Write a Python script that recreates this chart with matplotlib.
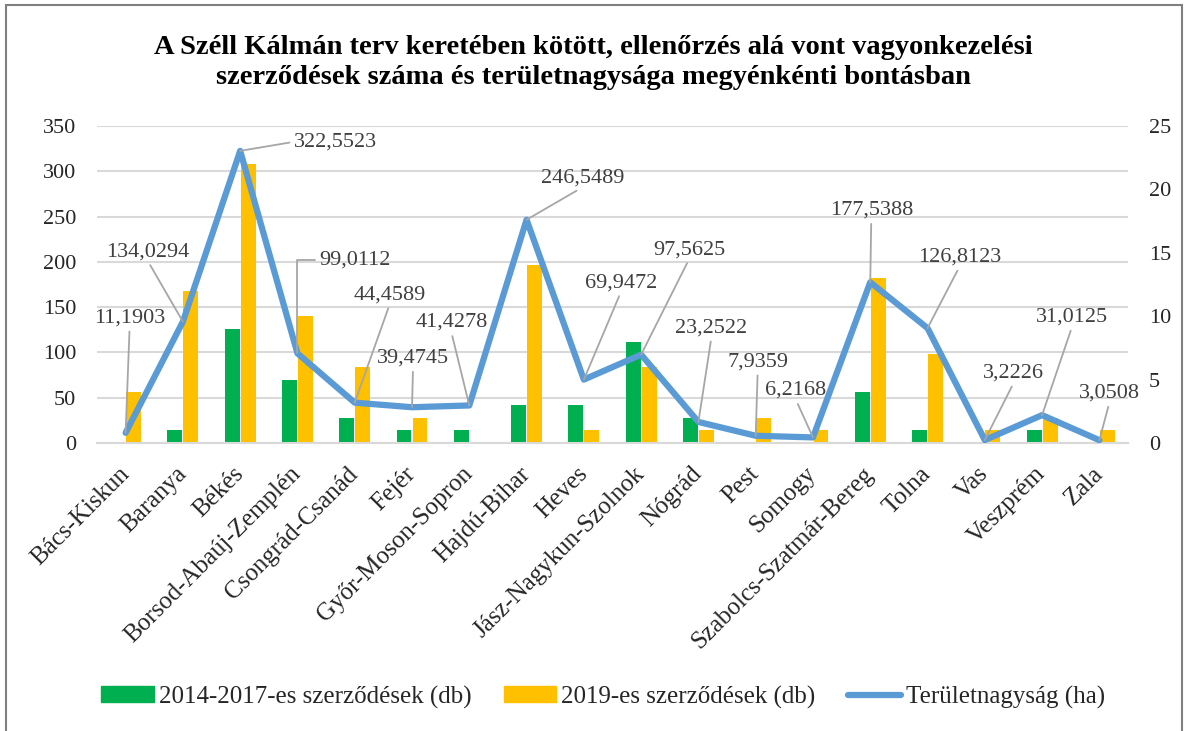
import numpy as np
import matplotlib
matplotlib.use('Agg')
import matplotlib.pyplot as plt
from matplotlib.patches import Rectangle, Patch
from matplotlib.lines import Line2D

plt.rcParams['font.family'] = ['Liberation Serif', 'DejaVu Serif']
plt.rcParams['ytick.major.pad'] = 15

# adatok
megyek = ['Bács-Kiskun', 'Baranya', 'Békés', 'Borsod-Abaúj-Zemplén', 'Csongrád-Csanád',
          'Fejér', 'Győr-Moson-Sopron', 'Hajdú-Bihar', 'Heves', 'Jász-Nagykun-Szolnok',
          'Nógrád', 'Pest', 'Somogy', 'Szabolcs-Szatmár-Bereg', 'Tolna', 'Vas',
          'Veszprém', 'Zala']
szerz_2014 = [0, 14, 126, 70, 28, 14, 14, 42, 42, 112, 28, 0, 0, 56, 14, 0, 14, 0]
szerz_2019 = [56, 168, 308, 140, 84, 28, 0, 196, 14, 84, 14, 28, 14, 182, 98, 14, 28, 14]
terulet = [0.80, 9.57, 23.04, 7.07, 3.18, 2.82, 2.96, 17.61, 5.00, 6.97,
           1.66, 0.57, 0.44, 12.68, 9.06, 0.23, 2.20, 0.22]
terulet_cimke = ['11,1903', '134,0294', '322,5523', '99,0112', '44,4589', '39,4745',
                 '41,4278', '246,5489', '69,9472', '97,5625', '23,2522', '7,9359',
                 '6,2168', '177,5388', '126,8123', '3,2226', '31,0125', '3,0508']

# cimkék eltolása a ponttól (pixel)
cimke_eltolas = [(4, 115), (-35, 70), (95, 9), (57, 93), (35, 108), (1, 49),
                 (-18, 83), (56, 42), (37, 97), (48, 105), (13, 94), (2, 74),
                 (-17, 47), (1, 72), (32, 71), (29, 67), (30, 98), (10, 47)]

zold = '#00B050'
sarga = '#FFC000'
kek = '#5B9BD5'
szurke = '#404040'

fig = plt.figure(figsize=(11.87, 7.31), dpi=100)
ax = fig.add_axes([0.0817, 0.394, 0.8686, 0.4336])
ax2 = ax.twinx()

x = np.arange(len(megyek))
w = 0.26
ax.bar(x - 0.14, szerz_2014, w, color=zold, zorder=2)
ax.bar(x + 0.14, szerz_2019, w, color=sarga, zorder=2)

ax.set_xlim(-0.5, len(megyek) - 0.5)
ax.set_ylim(0, 350)
ax.set_yticks(np.arange(0, 351, 50))
ax.grid(axis='y', color='#D9D9D9', lw=1.5, zorder=0)
ax.set_axisbelow(True)

ax2.plot(x, terulet, color=kek, lw=4.5, solid_joinstyle='round', solid_capstyle='round', zorder=3)
ax2.set_ylim(0, 25)
ax2.set_yticks(np.arange(0, 26, 5))

for a in (ax, ax2):
    for s in a.spines.values():
        s.set_visible(False)
    a.tick_params(length=0, labelsize=16, colors='#262626')
ax.spines['bottom'].set_visible(True)
ax.spines['bottom'].set_color('#D9D9D9')
ax.spines['bottom'].set_linewidth(1.5)

ax.set_xticks(x)
ax.set_xticklabels(megyek, rotation=45, ha='right', va='center', rotation_mode='anchor',
                   fontsize=18)
ax.tick_params(axis='x', pad=20)

# adatcímkék vezetővonallal
for i in range(len(megyek)):
    dx, dy = cimke_eltolas[i]
    relpos = (0.5, 0)
    conn = 'arc3'
    if i == 2:
        relpos = (0, 0.5)
    if i == 3:
        relpos = (0, 0.5)
        conn = 'angle,angleA=0,angleB=90,rad=0'
    ax2.annotate(terulet_cimke[i], xy=(x[i], terulet[i]), xytext=(dx, dy),
                 textcoords='offset pixels', ha='center', va='center',
                 fontsize=16, color=szurke, zorder=4,
                 arrowprops=dict(arrowstyle='-', color='#A6A6A6', lw=1.3,
                                 relpos=relpos, connectionstyle=conn,
                                 shrinkA=1, shrinkB=0))

fig.text(0.5, 1 - 47 / 731, 'A Széll Kálmán terv keretében kötött, ellenőrzés alá vont vagyonkezelési',
         ha='center', va='center', fontsize=20.5, fontweight='bold')
fig.text(0.5, 1 - 77 / 731, 'szerződések száma és területnagysága megyénkénti bontásban',
         ha='center', va='center', fontsize=20.5, fontweight='bold')

kezelok = [Patch(color=zold), Patch(color=sarga),
           Line2D([], [], color=kek, lw=4.5, solid_capstyle='round')]
fig.legend(kezelok, ['2014-2017-es szerződések (db)', '2019-es szerződések (db)',
                     'Területnagyság (ha)'],
           loc='center', bbox_to_anchor=(603 / 1187, 1 - 697 / 731), ncol=3, frameon=False,
           fontsize=18, handlelength=2.1, handleheight=0.6, handletextpad=0.2,
           columnspacing=1.3, labelcolor='#262626')

# keret
fig.add_artist(Rectangle((6 / 1187, -0.05), 1176 / 1187, 1.05 - 5 / 731,
                         transform=fig.transFigure, fill=False,
                         edgecolor='#7F7F7F', lw=1.5, clip_on=False))

fig.savefig('out.png', dpi=100)
